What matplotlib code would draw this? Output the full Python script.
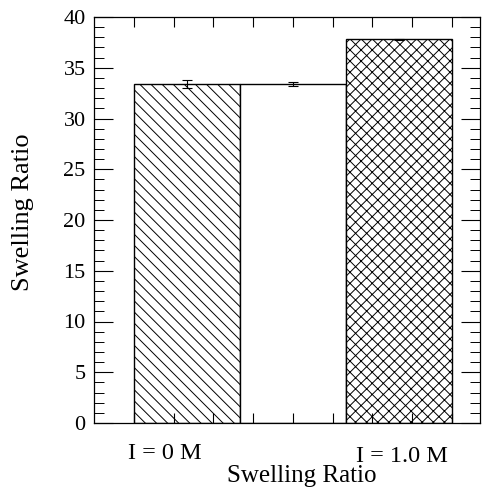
import matplotlib.pyplot as plt
import numpy as np

plt.rcParams["font.family"] = "Liberation Serif"
plt.rcParams["hatch.linewidth"] = 0.7

categories = ["I = 0 M", "", "I = 1.0 M"]
values = [33.4, 33.4, 37.8]
errors = [0.35, 0.2, 0.08]
hatches = ["\\\\\\", "", "xxx"]

fig = plt.figure(figsize=(4.82, 4.88), dpi=100)
ax = fig.add_axes([94 / 482, 65 / 488, 386 / 482, 406 / 488])

x = np.arange(len(values))
for xi, v, h in zip(x, values, hatches):
    ax.bar(xi, v, width=1.0, color="white", edgecolor="black",
           linewidth=1.0, hatch=h)
ax.errorbar(x, values, yerr=errors, fmt="none", ecolor="black",
            elinewidth=0.8, capsize=3.5, capthick=0.8)

ax.set_xlim(-0.875, 2.766)
ax.set_ylim(0, 40)

# unlabeled inward ticks along top and bottom
ax.set_xticks(-0.5 + 0.375 * np.arange(9))
ax.set_xticklabels([])
ax.tick_params(axis="x", direction="in", length=7, width=0.8,
               top=True, bottom=True)

ax.set_yticks(np.arange(0, 41, 5))
ax.set_yticks(np.arange(0, 41, 1), minor=True)
ax.tick_params(axis="y", which="major", direction="in", length=14, width=0.8,
               left=True, right=True, labelsize=16, pad=6)
ax.tick_params(axis="y", which="minor", direction="in", length=7, width=0.7,
               left=True, right=True)

for s in ax.spines.values():
    s.set_linewidth(0.9)

# category labels below the axis
label_x = [-0.205, 2.031]
label_y = [-0.075, -0.082]
for lx, ly, name in zip(label_x, label_y, [categories[0], categories[2]]):
    ax.text(lx, ly, name, transform=ax.get_xaxis_transform(),
            ha="center", va="center", fontsize=17.5)

ax.set_xlabel("Swelling Ratio", fontsize=18)
ax.xaxis.set_label_coords(0.539, -0.104)
ax.set_ylabel("Swelling Ratio", fontsize=19)
ax.yaxis.set_label_coords(-0.155, 0.52)

plt.savefig("out.png", dpi=100)
